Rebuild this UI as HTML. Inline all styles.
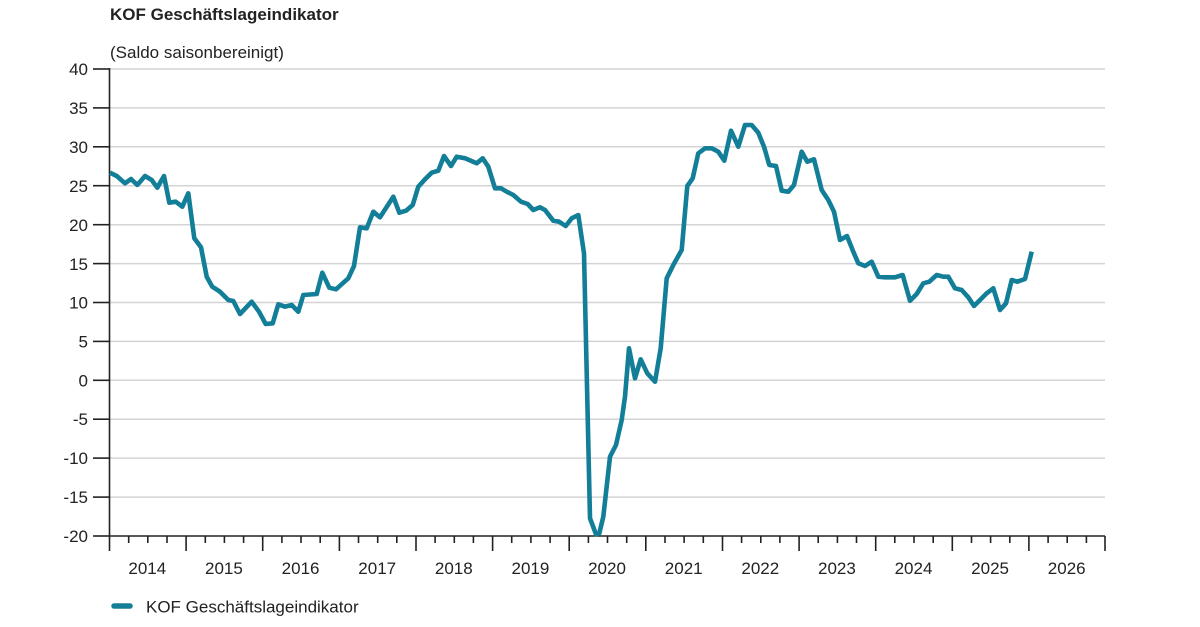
<!DOCTYPE html>
<html>
<head>
<meta charset="utf-8">
<style>
html,body{margin:0;padding:0;background:#fff;}
svg{display:block;}
text{font-family:"Liberation Sans",Arial,sans-serif;fill:#222;}
</style>
</head>
<body>
<svg width="1200" height="627" viewBox="0 0 1200 627" xmlns="http://www.w3.org/2000/svg">
<text x="110" y="20" font-size="17" font-weight="bold" fill="#111">KOF Geschäftslageindikator</text>
<text x="110" y="58" font-size="17">(Saldo saisonbereinigt)</text>
<g stroke="#d4d4d4" stroke-width="1.5">
<line x1="110" y1="69" x2="1105" y2="69"/>
<line x1="110" y1="107.9" x2="1105" y2="107.9"/>
<line x1="110" y1="146.8" x2="1105" y2="146.8"/>
<line x1="110" y1="185.7" x2="1105" y2="185.7"/>
<line x1="110" y1="224.7" x2="1105" y2="224.7"/>
<line x1="110" y1="263.6" x2="1105" y2="263.6"/>
<line x1="110" y1="302.5" x2="1105" y2="302.5"/>
<line x1="110" y1="341.4" x2="1105" y2="341.4"/>
<line x1="110" y1="380.3" x2="1105" y2="380.3"/>
<line x1="110" y1="419.2" x2="1105" y2="419.2"/>
<line x1="110" y1="458.1" x2="1105" y2="458.1"/>
<line x1="110" y1="497.1" x2="1105" y2="497.1"/>
</g>
<g stroke="#222" stroke-width="1.6">
<line x1="109.5" y1="68" x2="109.5" y2="536"/>
<line x1="109" y1="536" x2="1105" y2="536"/>
<line x1="93" y1="69" x2="109" y2="69"/>
<line x1="93" y1="107.9" x2="109" y2="107.9"/>
<line x1="93" y1="146.8" x2="109" y2="146.8"/>
<line x1="93" y1="185.7" x2="109" y2="185.7"/>
<line x1="93" y1="224.7" x2="109" y2="224.7"/>
<line x1="93" y1="263.6" x2="109" y2="263.6"/>
<line x1="93" y1="302.5" x2="109" y2="302.5"/>
<line x1="93" y1="341.4" x2="109" y2="341.4"/>
<line x1="93" y1="380.3" x2="109" y2="380.3"/>
<line x1="93" y1="419.2" x2="109" y2="419.2"/>
<line x1="93" y1="458.1" x2="109" y2="458.1"/>
<line x1="93" y1="497.1" x2="109" y2="497.1"/>
<line x1="93" y1="536" x2="109" y2="536"/>
</g>
<g font-size="17" text-anchor="end">
<text x="88" y="75">40</text>
<text x="88" y="114">35</text>
<text x="88" y="153">30</text>
<text x="88" y="192">25</text>
<text x="88" y="231">20</text>
<text x="88" y="270">15</text>
<text x="88" y="308.5">10</text>
<text x="88" y="347.5">5</text>
<text x="88" y="386.5">0</text>
<text x="88" y="425">-5</text>
<text x="88" y="464">-10</text>
<text x="88" y="503">-15</text>
<text x="88" y="542">-20</text>
</g>
<g id="ticks" stroke="#222" stroke-width="1.6"></g>
<g font-size="17" text-anchor="middle">
<text x="147.3" y="574">2014</text>
<text x="223.9" y="574">2015</text>
<text x="300.6" y="574">2016</text>
<text x="377.2" y="574">2017</text>
<text x="453.8" y="574">2018</text>
<text x="530.4" y="574">2019</text>
<text x="607" y="574">2020</text>
<text x="683.7" y="574">2021</text>
<text x="760.3" y="574">2022</text>
<text x="836.9" y="574">2023</text>
<text x="913.5" y="574">2024</text>
<text x="990.1" y="574">2025</text>
<text x="1066.7" y="574">2026</text>
</g>
<g stroke="#222" stroke-width="1.6">
<line x1="109.5" y1="536" x2="109.5" y2="551"/>
<line x1="128.7" y1="536" x2="128.7" y2="543"/><line x1="147.8" y1="536" x2="147.8" y2="543"/><line x1="167" y1="536" x2="167" y2="543"/>
<line x1="186.1" y1="536" x2="186.1" y2="551"/>
<line x1="205.3" y1="536" x2="205.3" y2="543"/><line x1="224.4" y1="536" x2="224.4" y2="543"/><line x1="243.6" y1="536" x2="243.6" y2="543"/>
<line x1="262.7" y1="536" x2="262.7" y2="551"/>
<line x1="281.9" y1="536" x2="281.9" y2="543"/><line x1="301" y1="536" x2="301" y2="543"/><line x1="320.2" y1="536" x2="320.2" y2="543"/>
<line x1="339.4" y1="536" x2="339.4" y2="551"/>
<line x1="358.5" y1="536" x2="358.5" y2="543"/><line x1="377.7" y1="536" x2="377.7" y2="543"/><line x1="396.8" y1="536" x2="396.8" y2="543"/>
<line x1="416" y1="536" x2="416" y2="551"/>
<line x1="435.1" y1="536" x2="435.1" y2="543"/><line x1="454.3" y1="536" x2="454.3" y2="543"/><line x1="473.4" y1="536" x2="473.4" y2="543"/>
<line x1="492.6" y1="536" x2="492.6" y2="551"/>
<line x1="511.7" y1="536" x2="511.7" y2="543"/><line x1="530.9" y1="536" x2="530.9" y2="543"/><line x1="550.1" y1="536" x2="550.1" y2="543"/>
<line x1="569.2" y1="536" x2="569.2" y2="551"/>
<line x1="588.4" y1="536" x2="588.4" y2="543"/><line x1="607.5" y1="536" x2="607.5" y2="543"/><line x1="626.7" y1="536" x2="626.7" y2="543"/>
<line x1="645.8" y1="536" x2="645.8" y2="551"/>
<line x1="665" y1="536" x2="665" y2="543"/><line x1="684.1" y1="536" x2="684.1" y2="543"/><line x1="703.3" y1="536" x2="703.3" y2="543"/>
<line x1="722.5" y1="536" x2="722.5" y2="551"/>
<line x1="741.6" y1="536" x2="741.6" y2="543"/><line x1="760.8" y1="536" x2="760.8" y2="543"/><line x1="779.9" y1="536" x2="779.9" y2="543"/>
<line x1="799.1" y1="536" x2="799.1" y2="551"/>
<line x1="818.2" y1="536" x2="818.2" y2="543"/><line x1="837.4" y1="536" x2="837.4" y2="543"/><line x1="856.5" y1="536" x2="856.5" y2="543"/>
<line x1="875.7" y1="536" x2="875.7" y2="551"/>
<line x1="894.8" y1="536" x2="894.8" y2="543"/><line x1="914" y1="536" x2="914" y2="543"/><line x1="933.2" y1="536" x2="933.2" y2="543"/>
<line x1="952.3" y1="536" x2="952.3" y2="551"/>
<line x1="971.5" y1="536" x2="971.5" y2="543"/><line x1="990.6" y1="536" x2="990.6" y2="543"/><line x1="1009.8" y1="536" x2="1009.8" y2="543"/>
<line x1="1028.9" y1="536" x2="1028.9" y2="551"/>
<line x1="1048.1" y1="536" x2="1048.1" y2="543"/><line x1="1067.2" y1="536" x2="1067.2" y2="543"/><line x1="1086.4" y1="536" x2="1086.4" y2="543"/>
<line x1="1105" y1="536" x2="1105" y2="551"/>
</g>
<polyline fill="none" stroke="#137e98" stroke-width="4.6" stroke-linejoin="round" stroke-linecap="butt" points="110,172.7 116.7,176 125,183.3 131,179 137.3,185 145,176 151.7,180 157.3,187.7 164,176 169.3,202.7 175.7,201.7 182.3,206.7 188.3,193.3 194.3,238.3 201,247.3 206.7,276.7 212.3,286.7 220,291.7 228.3,300 233.3,301 240,314 251.7,301.7 259,311.7 265.7,324 272.7,323.3 278.3,304.3 285,306.7 291.7,305 298.3,311.7 303.3,295 316.7,294 322.3,272.7 329.3,287.7 336,289.3 348.3,278.3 354,266 360,227.3 366.7,228.3 373.3,211.7 380,217.3 393.3,196.7 399.3,212.7 406,210.7 412.7,205 418.3,186.7 425,179.3 431.7,172.7 438.3,170.7 444,156 451,166 456.7,156.7 465,158.3 476.7,163.3 482.7,158.3 488.3,166.7 495,188.3 501,188.3 506.7,191.7 513.3,195 521,201.7 527.7,204 533.3,210 540,207.3 545,210 553.3,220.7 559,221.7 565.7,226 571.7,218.3 578.3,215 584,253.3 590,518.3 596,534.3 599.3,533.3 603.3,516.7 610,456.7 616,445 621.7,420 625,396.7 629,348.3 635,378.3 640.7,359.3 647.3,373.3 655,381.7 660.7,348.3 666.7,278.3 673.3,265 681.7,250 687.3,186 692.7,178.3 698.3,153.3 705,148.3 711.7,148.3 718.3,151.7 724.3,160.7 731,130.7 738.3,146.7 745,125 751.7,125 758.3,132.7 764,146.7 769.3,165 776,166 781.7,190.7 788.3,191.7 794,185 801.7,151.7 807.3,161.7 814,159.3 821.7,190 828.3,200 834,211.7 840,240 847,236 853.3,251.7 858.3,263.3 865,266 871.7,261.7 878.3,276.7 885,277.3 895,277.3 902.7,275 910,300.7 916.7,294 923.3,283.3 929.3,281.7 936.7,275 943.3,276.7 948.3,276.7 955,288.3 961.7,290 968.3,297.3 974,306 980,300 986.7,293.3 993.3,288.3 1000,310 1006,303.3 1011.7,280 1017.3,281.7 1025,279 1031.7,251.7"/>
<line x1="114" y1="606" x2="130" y2="606" stroke="#137e98" stroke-width="5.5" stroke-linecap="round"/>
<text x="146" y="612.5" font-size="17">KOF Geschäftslageindikator</text>
</svg>
</body>
</html>
